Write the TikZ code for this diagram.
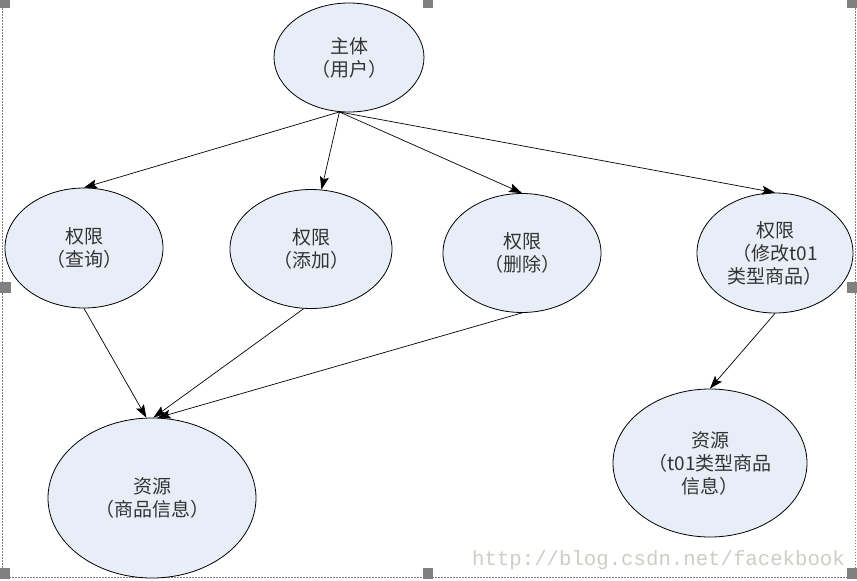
\documentclass[tikz,border=0pt]{standalone}
\usepackage{fontspec}
\newfontfamily\cjk{Noto Sans CJK SC}
\newfontfamily\wmfont{Liberation Mono}
\usetikzlibrary{shapes.geometric,arrows.meta}
\definecolor{ellfill}{RGB}{232,238,248}
\definecolor{handle}{RGB}{128,128,128}
\definecolor{wmgray}{RGB}{205,205,198}
\begin{document}
\begin{tikzpicture}[x=1pt,y=-1pt,
    ell/.style={ellipse,draw=black,line width=0.8pt,fill=ellfill,inner sep=0pt,align=center,
        font=\cjk\fontsize{19}{23}\selectfont,text=black!80},
    arr/.style={line width=0.7pt,-{Stealth[length=13pt,width=9pt,inset=2.5pt]}},
    hd/.style={fill=handle,draw=none}]
        \useasboundingbox (0,0) rectangle (857,581);
        % frame of the selection
        \draw[gray,line width=0.7pt,dash pattern=on 1.5pt off 1.5pt] (2,8)--(2,577)--(855,577)--(855,8);
        \foreach \hx in {0,423,847} {
            \fill[hd] (\hx,0) rectangle ++(10,8);
            \fill[hd] (\hx,568) rectangle ++(10,11);
        }
        \fill[hd] (0,282) rectangle ++(11,11);
        \fill[hd] (847,282) rectangle ++(10,11);
        % ellipses
        \node[ell,minimum width=150pt,minimum height=109pt] (zt) at (349,57.5) {主体\\（用户）};
        \node[ell,minimum width=158pt,minimum height=120pt] (cx) at (84,248) {权限\\（查询）};
        \node[ell,minimum width=162pt,minimum height=119pt] (tj) at (311,249) {权限\\（添加）};
        \node[ell,minimum width=158pt,minimum height=119pt] (sc) at (522,253) {权限\\（删除）};
        \node[ell,minimum width=156pt,minimum height=120pt] (xg) at (775,253) {权限\\（修改t01\\类型商品）};
        \node[ell,minimum width=208pt,minimum height=160pt] (zy) at (152,498) {资源\\（商品信息）};
        \node[ell,minimum width=194pt,minimum height=148pt] (zyt) at (710,463) {资源\\（t01类型商品\\信息）};
        % arrows
        \draw[arr] (zt.260)--(cx.north);
        \draw[arr] (zt.260)--(tj.80);
        \draw[arr] (zt.260)--(sc.north);
        \draw[arr] (zt.260)--(xg.north);
        \draw[arr] (cx.south)--(zy.94);
        \draw[arr] (tj.263)--(zy.89);
        \draw[arr] (sc.south)--(zy.86);
        \draw[arr] (xg.south)--(zyt.north);
        % watermark
        \node[anchor=base west,inner sep=0pt,text=wmgray,font=\wmfont\fontsize{20.7}{20.7}\selectfont] (wmk) at (472,565) {http://blog.csdn.net/facekbook};
    \end{tikzpicture}
\end{document}
